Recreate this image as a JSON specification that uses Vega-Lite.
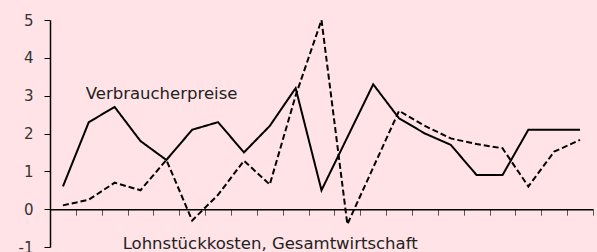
{
  "$schema": "https://vega.github.io/schema/vega-lite/v6.json",
  "autosize": {"type": "none"},
  "padding": {"left": 50, "top": 20, "right": 4, "bottom": 5},
  "width": 543,
  "height": 227,
  "background": "#FFE3E6",
  "config": {
    "view": {"stroke": null},
    "font": "DejaVu Sans",
    "axisX": {
      "orient": "bottom", "offset": -37.8, "labels": false,
      "domainColor": "black", "domainWidth": 1.5, "tickColor": "#555", "tickSize": 6,
      "tickBand": "extent", "grid": false
    },
    "axisY": {
      "tickCount": 7, "grid": false,
      "domainColor": "black", "domainWidth": 1.5, "tickColor": "black", "tickSize": 6,
      "labelFontSize": 15, "labelColor": "#333", "labelPadding": 11,
      "labelOverlap": false, "labelBound": false, "labelFlush": false,
      "labelExpr": "toString(datum.value)"
    }
  },
  "datasets": {
    "series": [
      {"k": 0, "s": "Verbraucherpreise", "v": 0.6},
      {"k": 1, "s": "Verbraucherpreise", "v": 2.3},
      {"k": 2, "s": "Verbraucherpreise", "v": 2.7},
      {"k": 3, "s": "Verbraucherpreise", "v": 1.8},
      {"k": 4, "s": "Verbraucherpreise", "v": 1.3},
      {"k": 5, "s": "Verbraucherpreise", "v": 2.1},
      {"k": 6, "s": "Verbraucherpreise", "v": 2.3},
      {"k": 7, "s": "Verbraucherpreise", "v": 1.5},
      {"k": 8, "s": "Verbraucherpreise", "v": 2.2},
      {"k": 9, "s": "Verbraucherpreise", "v": 3.2},
      {"k": 10, "s": "Verbraucherpreise", "v": 0.5},
      {"k": 11, "s": "Verbraucherpreise", "v": 1.9},
      {"k": 12, "s": "Verbraucherpreise", "v": 3.3},
      {"k": 13, "s": "Verbraucherpreise", "v": 2.4},
      {"k": 14, "s": "Verbraucherpreise", "v": 2.0},
      {"k": 15, "s": "Verbraucherpreise", "v": 1.7},
      {"k": 16, "s": "Verbraucherpreise", "v": 0.9},
      {"k": 17, "s": "Verbraucherpreise", "v": 0.9},
      {"k": 18, "s": "Verbraucherpreise", "v": 2.1},
      {"k": 19, "s": "Verbraucherpreise", "v": 2.1},
      {"k": 20, "s": "Verbraucherpreise", "v": 2.1},
      {"k": 0, "s": "Lohnstückkosten", "v": 0.1},
      {"k": 1, "s": "Lohnstückkosten", "v": 0.25},
      {"k": 2, "s": "Lohnstückkosten", "v": 0.7},
      {"k": 3, "s": "Lohnstückkosten", "v": 0.5},
      {"k": 4, "s": "Lohnstückkosten", "v": 1.3},
      {"k": 5, "s": "Lohnstückkosten", "v": -0.3},
      {"k": 6, "s": "Lohnstückkosten", "v": 0.38},
      {"k": 7, "s": "Lohnstückkosten", "v": 1.28},
      {"k": 8, "s": "Lohnstückkosten", "v": 0.65},
      {"k": 9, "s": "Lohnstückkosten", "v": 3.0},
      {"k": 10, "s": "Lohnstückkosten", "v": 5.0},
      {"k": 11, "s": "Lohnstückkosten", "v": -0.4},
      {"k": 12, "s": "Lohnstückkosten", "v": 1.1},
      {"k": 13, "s": "Lohnstückkosten", "v": 2.6},
      {"k": 14, "s": "Lohnstückkosten", "v": 2.2},
      {"k": 15, "s": "Lohnstückkosten", "v": 1.87},
      {"k": 16, "s": "Lohnstückkosten", "v": 1.72},
      {"k": 17, "s": "Lohnstückkosten", "v": 1.61},
      {"k": 18, "s": "Lohnstückkosten", "v": 0.6},
      {"k": 19, "s": "Lohnstückkosten", "v": 1.52},
      {"k": 20, "s": "Lohnstückkosten", "v": 1.83}
    ],
    "labels": [
      {"k": 1, "v": 3.05, "t": "Verbraucherpreise"},
      {"k": 2, "v": -0.92, "t": "Lohnstückkosten, Gesamtwirtschaft"}
    ]
  },
  "layer": [
    {
      "data": {"name": "series"},
      "mark": {"type": "line", "color": "black", "strokeWidth": 2},
      "encoding": {
        "x": {
          "field": "k", "type": "ordinal", "bandPosition": 0.5, "title": null,
          "scale": {"type": "band", "paddingInner": 0, "paddingOuter": 0}
        },
        "y": {
          "field": "v", "type": "quantitative", "title": null,
          "scale": {"domain": [-1, 5], "nice": false, "zero": false}
        },
        "strokeDash": {
          "field": "s", "type": "nominal",
          "scale": {"domain": ["Verbraucherpreise", "Lohnstückkosten"], "range": [[1, 0], [6, 3]]},
          "legend": null
        },
        "detail": {"field": "s"}
      }
    },
    {
      "data": {"name": "labels"},
      "transform": [{"filter": "datum.k == 1"}],
      "mark": {"type": "text", "align": "left", "baseline": "middle", "fontSize": 16.5, "color": "#222", "dx": -3},
      "encoding": {
        "x": {"field": "k", "type": "ordinal", "bandPosition": 0.5, "title": null},
        "y": {"field": "v", "type": "quantitative", "title": null},
        "text": {"field": "t"}
      }
    },
    {
      "data": {"name": "labels"},
      "transform": [{"filter": "datum.k == 2"}],
      "mark": {"type": "text", "align": "left", "baseline": "middle", "fontSize": 16.5, "color": "#222", "dx": 8},
      "encoding": {
        "x": {"field": "k", "type": "ordinal", "bandPosition": 0.5, "title": null},
        "y": {"field": "v", "type": "quantitative", "title": null},
        "text": {"field": "t"}
      }
    }
  ]
}
